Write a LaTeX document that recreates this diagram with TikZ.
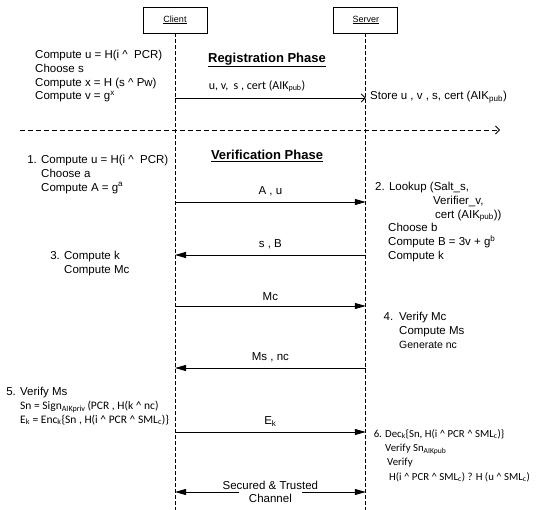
\documentclass[tikz,border=0pt]{standalone}
\usepackage{fontspec}
\setmainfont{Liberation Sans}
\newfontfamily\calfont{Carlito}
\usetikzlibrary{arrows.meta, positioning}
\newcommand{\caret}{\textasciicircum}
\newcommand{\subtxt}[1]{\textsubscript{#1}}
\newcommand{\suptxt}[1]{\textsuperscript{#1}}

\begin{document}
\begin{tikzpicture}[
        x=1pt, y=-1pt,
        font=\fontsize{11.5}{13.8}\selectfont,
        actor/.style={
            rectangle,
            draw,
            line width=0.8pt,
            minimum width=64pt,
            minimum height=26pt,
            font=\fontsize{9}{10}\selectfont
        },
        lifeline/.style={line width=0.7pt, dash pattern=on 4pt off 2pt},
        phase/.style={font=\fontsize{13}{15}\selectfont\bfseries},
        note/.style={align=left, anchor=north west, inner sep=0pt},
        msg/.style={-{Triangle[length=11pt, width=6pt]}, line width=0.8pt},
        regmsg/.style={-{Straight Barb[length=4pt, width=8pt]}, line width=0.8pt},
        chan/.style={{Triangle[length=11pt, width=6pt]}-{Triangle[length=11pt, width=6pt]}, line width=0.8pt}
    ]
        \useasboundingbox (0,0) rectangle (537,510);

        % Actors and lifelines
        \node[actor] (client) at (175,20) {\underline{Client}};
        \node[actor, right=126pt of client] (server) {\underline{Server}};
        \coordinate (clientend) at (client |- 0,512);
        \coordinate (serverend) at (server |- 0,512);
        \draw[lifeline] (client) -- (clientend);
        \draw[lifeline] (server) -- (serverend);

        % Phases
        \node[phase] (regphase) at (267,60) {\underline{Registration Phase}};
        \coordinate (sepstart) at (20,130);
        \coordinate (sepend) at (500,130);
        \draw[regmsg, dash pattern=on 5pt off 3pt] (sepstart) -- (sepend);
        \node[phase] (verphase) at (267,156) {\underline{Verification Phase}};

        % Message rows
        \foreach \row/\y in {reg/98, au/202, sb/255, mc/306, msnc/368, ek/432, chan/492} {
            \coordinate (c\row) at (client |- 0,\y);
            \coordinate (s\row) at (server |- 0,\y);
        }

        % Client side notes
        \node[note] (regclient) at (35,50) {Compute u = H(i \caret\ \ PCR)\\Choose s\\Compute x = H (s \caret\ Pw)\\Compute v = g\suptxt{x}};
        \node[note] (stepone) at (41,155) {\llap{1. }Compute u = H(i \caret\ \ PCR)\\Choose a\\Compute A = g\suptxt{a}};
        \node[note] (stepthree) at (64,251) {\llap{3. }Compute k\\Compute Mc};
        \node[note] (stepfive) at (20,387) {\llap{5. }Verify Ms\\
            {\calfont Sn = Sign\subtxt{AIKpriv}\,(PCR , H(k \caret\ nc)}\\
            {\calfont E\subtxt{k} = Enc\subtxt{k}\{Sn , H(i \caret\ PCR \caret\ SML\subtxt{c})\}}};

        % Server side notes
        \node[anchor=west, inner sep=0pt] (store) at (370,97) {Store u , v , s, cert (AIK\subtxt{pub})};
        \node[note] (steptwo) at (375,182) {2. Lookup (Salt\_s,\\
            \hspace*{58pt}Verifier\_v,\\
            \hspace*{60pt}cert (AIK\subtxt{pub}))\\
            \hspace*{13pt}Choose b\\
            \hspace*{13pt}Compute B = 3v + g\suptxt{b}\\
            \hspace*{13pt}Compute k};
        \node[note] (stepfour) at (399,312) {\llap{4.\hspace{6pt}}Verify Mc\\Compute Ms\\{\fontsize{10.5}{12}\selectfont Generate nc}};
        \node[note, font=\calfont\fontsize{10.8}{14.3}\selectfont] (stepsix) at (385,429) {\llap{6. }Dec\subtxt{k}\{Sn, H(i \caret\ PCR \caret\ SML\subtxt{c})\}\\
            Verify Sn\subtxt{AIKpub}\\
            \hspace*{2pt}Verify\\
            \hspace*{4pt}H(i \caret\ PCR \caret\ SML\subtxt{c}) ? H (u \caret\ SML\subtxt{c})};

        % Messages
        \draw[regmsg] (creg) -- node[pos=0.43, above=2pt, font=\calfont\fontsize{12}{14}\selectfont] {u, v,\ \ s , cert (AIK\subtxt{pub})} (sreg);
        \draw[msg] (cau) -- node[above=2pt] {A , u} (sau);
        \draw[msg] (ssb) -- node[above=2pt] {s , B} (csb);
        \draw[msg] (cmc) -- node[above=2pt] {Mc} (smc);
        \draw[msg] (smsnc) -- node[above=2pt] {Ms , nc} (cmsnc);
        \draw[msg] (cek) -- node[above=2pt] {E\subtxt{k}} (sek);
        \draw[chan] (cchan) -- node[fill=white, inner xsep=-16pt, inner ysep=1pt, align=center, font=\fontsize{11.5}{12.5}\selectfont] {Secured \& Trusted\\Channel} (schan);
\end{tikzpicture}
\end{document}
